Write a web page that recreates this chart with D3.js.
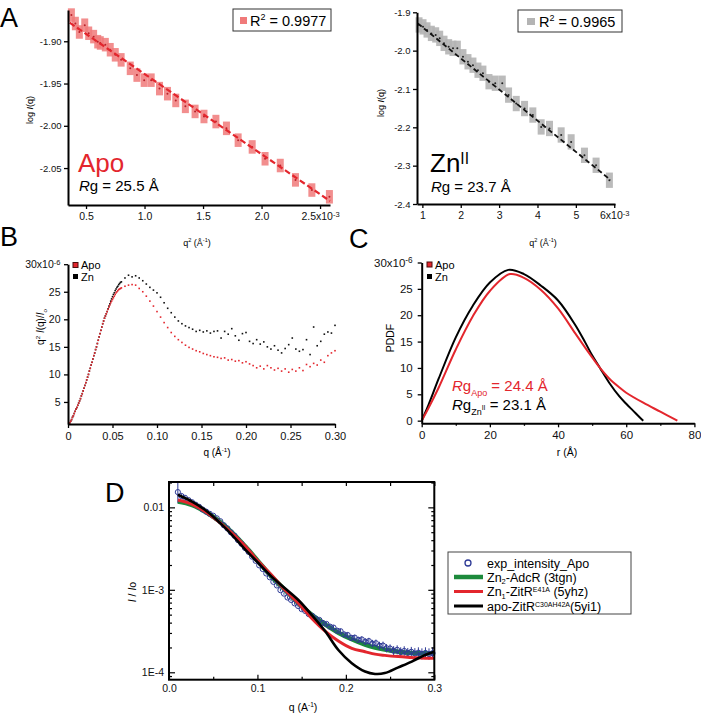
<!DOCTYPE html>
<html>
<head>
<meta charset="utf-8">
<script src="https://cdn.jsdelivr.net/npm/d3@7"></script>
<style>
  body { margin: 0; background: #fff; }
  svg { font-family: "Liberation Sans", Arial, Helvetica, sans-serif; }
</style>
</head>
<body>
<svg id="fig" width="701" height="715"></svg>
<script>
// ---------- panel A : Guinier plots ----------
const apoQ2 = [0.375,0.409,0.443,0.489,0.523,0.565,0.600,0.622,0.665,0.707,0.750,0.800,0.878,0.935,0.997,1.057,1.128,1.196,1.267,1.349,1.432,1.508,1.610,1.700,1.800,1.920,2.030,2.160,2.290,2.430,2.580];
const apoLogI = [-1.869,-1.879,-1.889,-1.881,-1.8905,-1.8945,-1.9005,-1.902,-1.904,-1.910,-1.916,-1.922,-1.932,-1.940,-1.946,-1.946,-1.956,-1.962,-1.970,-1.977,-1.983,-1.989,-1.995,-2.003,-2.017,-2.025,-2.039,-2.047,-2.064,-2.076,-2.084];
const apoErr = 0.008;
const apoFitQ2 = [0.36, 2.585];
const apoFitLogI = [-1.878, -2.089];
const apoXTicks = [0.5, 1.0, 1.5, 2.0, 2.5];
const apoYTicks = [-1.90, -1.95, -2.00, -2.05];

const znQ2 = [0.913,1.017,1.121,1.234,1.347,1.451,1.564,1.685,1.798,1.911,2.058,2.188,2.318,2.448,2.578,2.735,2.899,3.082,3.246,3.446,3.663,3.879,4.096,4.313,4.617,4.877,5.224,5.527,5.874];
const znLogI = [-1.933,-1.938,-1.946,-1.955,-1.959,-1.968,-1.981,-1.990,-1.994,-1.994,-2.016,-2.029,-2.038,-2.051,-2.059,-2.081,-2.085,-2.085,-2.116,-2.138,-2.151,-2.168,-2.199,-2.203,-2.220,-2.238,-2.273,-2.299,-2.338];
const znErr = 0.02;
const znFitQ2 = [0.88, 5.9];
const znFitLogI = [-1.929, -2.337];
const znXTicks = [1, 2, 3, 4, 5, 6];
const znYTicks = [-1.9, -2.0, -2.1, -2.2, -2.3, -2.4];

// ---------- panel B : Kratky ----------
const qB = [0.002,0.003,0.004,0.005,0.006,0.007,0.008,0.009,0.010,0.011,0.012,0.013,0.014,0.015,0.016,0.017,0.018,0.019,0.020,0.021,0.022,0.023,0.024,0.025,0.026,0.027,0.028,0.029,0.030,0.031,0.032,0.033,0.034,0.035,0.036,0.037,0.038,0.039,0.040,0.041,0.042,0.043,0.044,0.045,0.046,0.047,0.048,0.049,0.050,0.051,0.052,0.053,0.054,0.055,0.056,0.057,0.058,0.059,0.060,
  0.064,0.068,0.072,0.076,0.080,0.084,0.088,0.092,0.096,0.100,0.104,0.108,0.112,0.116,0.120,0.124,0.128,0.132,0.136,0.140,0.144,0.148,0.152,0.156,0.160,0.164,0.168,0.172,0.176,0.180,0.184,0.188,0.192,0.196,0.200,0.204,0.208,0.212,0.216,0.220,0.224,0.228,0.232,0.236,0.240,0.244,0.248,0.252,0.256,0.260,0.264,0.268,0.272,0.276,0.280,0.284,0.288,0.292,0.296,0.300];
const apoKratky = [1.2,1.5,1.8,2.2,2.5,2.9,3.3,3.7,4.0,4.4,4.8,5.2,5.6,6.1,6.5,7.0,7.5,8.0,8.5,9.0,9.5,10.0,10.6,11.1,11.7,12.2,12.8,13.4,13.9,14.5,15.0,15.6,16.2,16.8,17.4,18.0,18.6,19.2,19.7,20.2,20.6,21.0,21.4,21.8,22.2,22.6,23.0,23.3,23.6,23.9,24.2,24.5,24.8,25.0,25.2,25.4,25.5,25.6,25.7,
  26.0,26.2,26.3,26.2,25.6,25.0,24.2,23.3,22.4,21.4,20.4,19.4,18.5,17.6,16.9,16.3,15.8,15.3,14.9,14.6,14.3,14.1,13.8,13.6,13.4,13.2,13.1,12.9,13.0,12.6,12.7,12.4,12.5,12.1,12.3,11.9,11.6,11.2,11.5,11.0,11.6,11.2,10.8,11.1,10.6,11.0,10.4,10.9,10.6,11.2,10.7,11.8,11.4,12.0,11.7,12.6,12.2,13.4,13.9,14.3];
const znKratky = [1.2,1.5,1.8,2.2,2.5,2.9,3.3,3.7,4.0,4.4,4.8,5.2,5.6,6.1,6.5,7.0,7.5,8.0,8.5,9.0,9.5,10.0,10.6,11.1,11.7,12.2,12.8,13.4,13.9,14.5,15.0,15.6,16.2,16.8,17.4,18.0,18.6,19.2,19.7,20.2,20.6,21.0,21.4,21.9,22.4,22.8,23.3,23.7,24.1,24.5,24.8,25.2,25.5,25.8,26.0,26.3,26.5,26.7,26.8,
  27.5,28.0,27.7,27.9,27.5,27.0,26.4,25.8,25.3,24.8,24.0,23.0,22.0,21.2,20.4,19.7,19.2,18.8,18.5,18.2,17.8,18.0,17.7,17.9,17.5,17.8,17.9,16.6,17.8,17.3,18.3,17.0,16.2,17.4,17.6,16.0,15.6,16.3,15.5,15.9,15.0,14.6,15.2,14.4,13.9,14.7,15.4,16.6,14.6,14.2,14.5,16.3,13.6,18.6,15.2,16.0,17.3,17.7,17.5,18.9];
const kratkyXTicks = [0, 0.05, 0.10, 0.15, 0.20, 0.25, 0.30];
const kratkyYTicks = [5, 10, 15, 20, 25, 30];

// ---------- panel C : P(r) ----------
const znR = [0,2,5,10,15,20,25.4,30,35,40,45,48,50,52.3,55,58,60,62,64,65];
const znPr = [0,3.0,8.0,15.8,21.8,26.2,28.6,27.8,25.6,22.8,18.2,14.8,12.4,10.0,7.2,4.6,3.2,1.9,0.6,0];
const apoR = [0,2,5,10,15,20,25.9,30,35,40,45,48,50,52.3,55,58,60,65,70,75];
const apoPr = [0,2.4,6.3,13.5,19.8,24.6,27.8,27.1,24.8,21.3,16.6,13.8,12.0,10.0,8.0,6.3,5.3,3.4,1.7,0];
const prXTicks = [0, 20, 40, 60, 80];
const prXMinor = [10, 30, 50, 70];
const prYTicks = [0, 5, 10, 15, 20, 25, 30];

// ---------- panel D : scattering curves ----------
const qD = [0.010,0.014,0.018,0.022,0.026,0.030,0.034,0.038,0.042,0.046,0.050,0.054,0.058,0.062,0.066,0.070,0.074,0.078,0.082,0.086,0.090,0.094,0.098,0.102,0.106,0.110,0.114,0.118,0.122,0.126,0.130,0.134,0.138,0.142,0.146,0.150,0.154,0.158,0.162,0.166,0.170,0.174,0.178,0.182,0.186,0.190,0.194,0.198,0.202,0.206,0.210,0.214,0.218,0.222,0.226,0.230,0.234,0.238,0.242,0.246,0.250,0.254,0.258,0.262,0.266,0.270,0.274,0.278,0.282,0.286,0.290,0.294,0.298];
const expLogI = [-1.815,-1.862,-1.884,-1.912,-1.938,-1.967,-1.993,-2.026,-2.052,-2.078,-2.102,-2.133,-2.168,-2.217,-2.255,-2.303,-2.344,-2.397,-2.441,-2.493,-2.540,-2.598,-2.648,-2.703,-2.748,-2.802,-2.848,-2.903,-2.947,-3.004,-3.046,-3.093,-3.122,-3.164,-3.196,-3.234,-3.256,-3.294,-3.316,-3.349,-3.365,-3.401,-3.414,-3.446,-3.458,-3.495,-3.502,-3.541,-3.548,-3.582,-3.580,-3.607,-3.602,-3.628,-3.622,-3.652,-3.648,-3.678,-3.676,-3.708,-3.712,-3.738,-3.728,-3.755,-3.742,-3.765,-3.752,-3.772,-3.762,-3.778,-3.765,-3.780,-3.768];
const expErr = [0.13,0.03,0.02,0.015,0.012,0.012,0.012,0.012,0.012,0.012,0.01,0.01,0.01,0.01,0.01,0.01,0.01,0.01,0.01,0.01,0.01,0.01,0.01,0.01,0.012,0.012,0.012,0.012,0.014,0.014,0.014,0.015,0.015,0.016,0.016,0.018,0.018,0.02,0.02,0.022,0.022,0.025,0.025,0.028,0.028,0.03,0.03,0.033,0.033,0.035,0.035,0.038,0.038,0.04,0.04,0.045,0.045,0.048,0.048,0.05,0.05,0.055,0.055,0.058,0.058,0.06,0.06,0.065,0.065,0.068,0.068,0.07,0.07];
const fitQ = [0.010,0.0256,0.0407,0.0558,0.0709,0.086,0.101,0.116,0.131,0.146,0.161,0.1765,0.1915,0.2067,0.2217,0.233,0.244,0.2594,0.2745,0.2896,0.300];
const adcrLogI = [-1.93,-1.97,-2.05,-2.16,-2.30,-2.47,-2.655,-2.84,-3.0,-3.16,-3.30,-3.42,-3.52,-3.60,-3.665,-3.70,-3.725,-3.75,-3.765,-3.77,-3.77];
const zitrLogI = [-1.91,-1.96,-2.05,-2.17,-2.31,-2.47,-2.655,-2.82,-3.0,-3.16,-3.34,-3.50,-3.62,-3.71,-3.75,-3.78,-3.795,-3.81,-3.82,-3.83,-3.83];
const apoZitrLogI = [-1.847,-1.927,-2.03,-2.17,-2.33,-2.51,-2.675,-2.84,-2.98,-3.12,-3.30,-3.50,-3.73,-3.89,-3.99,-4.02,-4.01,-3.94,-3.87,-3.79,-3.75];
const dXTicks = [0, 0.1, 0.2, 0.3];
const dXMinor = [0.05, 0.15, 0.25];
const dYTicks = [1e-4, 1e-3, 1e-2];

const RED = "#e3262d", APO_MARK = "#f07a7a", ZN_MARK = "#b4b4b4";
const GREEN = "#1d8a3c", BLUE = "#2e3a96";

const svg = d3.select("#fig");

// text with italic / super / subscript runs
function rich(sel, fs, parts) {
  let cur = 0;
  parts.forEach(p => {
    if (typeof p === "string") p = {t: p};
    let off = 0, size = fs;
    if (p.sup) { off = -fs * 0.4; size = fs * 0.62; }
    if (p.sub) { off = fs * 0.28; size = fs * 0.62; }
    if (p.dy !== undefined) { off = fs * p.dy; size = fs * p.sz; }
    const t = sel.append("tspan").attr("dy", off - cur).attr("font-size", size).text(p.t);
    if (p.it) t.attr("font-style", "italic");
    cur = off;
  });
  return sel;
}

function styleAxis(g, fs) {
  g.attr("font-family", null).attr("font-size", fs);
  g.select(".domain").attr("stroke-width", 2);
  g.selectAll(".tick line").attr("stroke-width", 1.3);
  g.selectAll(".tick text").attr("fill", "#111");
}

function lastTickSup(g, sup) {
  const t = g.selectAll(".tick text").filter((d, i, n) => i === n.length - 1);
  t.append("tspan").attr("dy", "-0.45em").attr("font-size", "0.72em").text(sup);
}

function yLabel(x, y, fs, parts) {
  const t = svg.append("text").attr("transform", `translate(${x},${y}) rotate(-90)`)
    .attr("text-anchor", "middle").attr("font-size", fs);
  rich(t, fs, parts);
}

function xLabel(x, y, fs, parts) {
  const t = svg.append("text").attr("x", x).attr("y", y).attr("text-anchor", "middle").attr("font-size", fs);
  rich(t, fs, parts);
}

function panelLetter(x, y, s) {
  svg.append("text").attr("x", x).attr("y", y).attr("font-size", 27).text(s);
}

// ===== Panel A, left (Apo) =====
{
  const x = d3.scaleLinear().domain([0.346, 2.585]).range([68, 330]);
  const y = d3.scaleLinear().domain([-2.0937, -1.863]).range([205, 10]);
  const g = svg.append("g");

  g.selectAll("rect.err").data(apoQ2).join("rect")
    .attr("x", d => x(d) - 3.5).attr("width", 7)
    .attr("y", (d, i) => y(apoLogI[i] + apoErr))
    .attr("height", (d, i) => y(apoLogI[i] - apoErr) - y(apoLogI[i] + apoErr))
    .attr("fill", APO_MARK).attr("opacity", 0.85);
  g.selectAll("circle").data(apoQ2).join("circle")
    .attr("cx", d => x(d)).attr("cy", (d, i) => y(apoLogI[i])).attr("r", 1)
    .attr("fill", "#b8222a");
  g.append("line")
    .attr("x1", x(apoFitQ2[0])).attr("y1", y(apoFitLogI[0]))
    .attr("x2", x(apoFitQ2[1])).attr("y2", y(apoFitLogI[1]))
    .attr("stroke", RED).attr("stroke-width", 2.2).attr("stroke-dasharray", "6,3");

  const ax = g.append("g").attr("transform", "translate(0,205)")
    .call(d3.axisBottom(x).tickValues(apoXTicks).tickSize(4).tickSizeOuter(0).tickPadding(4)
      .tickFormat(d => d === 2.5 ? "2.5x10" : d.toFixed(1)));
  styleAxis(ax, 10.5);
  lastTickSup(ax, "-3");
  const ay = g.append("g").attr("transform", "translate(68,0)")
    .call(d3.axisLeft(y).tickValues(apoYTicks).tickSize(4).tickSizeOuter(0).tickPadding(2.5)
      .tickFormat(d => d.toFixed(2)));
  styleAxis(ay, 9.5);

  // legend
  g.append("rect").attr("x", 233).attr("y", 9).attr("width", 98).attr("height", 22)
    .attr("fill", "#fff").attr("stroke", "#333").attr("stroke-width", 1);
  g.append("rect").attr("x", 240).attr("y", 17).attr("width", 7).attr("height", 7).attr("fill", APO_MARK);
  rich(g.append("text").attr("x", 250).attr("y", 26).attr("font-size", 14.5), 14.5,
    ["R", {t: "2", sup: true}, " = 0.9977"]);

  g.append("text").attr("x", 78).attr("y", 172).attr("font-size", 26).attr("fill", RED).text("Apo");
  rich(g.append("text").attr("x", 79).attr("y", 191).attr("font-size", 15), 15,
    [{t: "R", it: true}, "g = 25.5 Å"]);

  xLabel(197, 246, 9, ["q", {t: "2", sup: true}, " (Å", {t: "-1", sup: true}, ")"]);
  yLabel(33, 110, 9, ["log ", {t: "I", it: true}, "(q)"]);
}

// ===== Panel A, right (Zn) =====
{
  const x = d3.scaleLinear().domain([0.86, 6.02]).range([417, 615]);
  const y = d3.scaleLinear().domain([-2.4, -1.9]).range([204, 12.3]);
  const g = svg.append("g");

  g.selectAll("rect.err").data(znQ2).join("rect")
    .attr("x", d => x(d) - 3.5).attr("width", 7)
    .attr("y", (d, i) => y(znLogI[i] + znErr))
    .attr("height", (d, i) => y(znLogI[i] - znErr) - y(znLogI[i] + znErr))
    .attr("fill", ZN_MARK).attr("opacity", 0.9);
  g.selectAll("circle").data(znQ2).join("circle")
    .attr("cx", d => x(d)).attr("cy", (d, i) => y(znLogI[i])).attr("r", 1)
    .attr("fill", "#222");
  g.append("line")
    .attr("x1", x(znFitQ2[0])).attr("y1", y(znFitLogI[0]))
    .attr("x2", x(znFitQ2[1])).attr("y2", y(znFitLogI[1]))
    .attr("stroke", "#111").attr("stroke-width", 1.8).attr("stroke-dasharray", "5,3");

  const ax = g.append("g").attr("transform", "translate(0,204)")
    .call(d3.axisBottom(x).tickValues(znXTicks).tickSize(4).tickSizeOuter(0).tickPadding(4)
      .tickFormat(d => d === 6 ? "6x10" : String(d)));
  styleAxis(ax, 10.5);
  lastTickSup(ax, "-3");
  const ay = g.append("g").attr("transform", "translate(417,0)")
    .call(d3.axisLeft(y).tickValues(znYTicks).tickSize(4).tickSizeOuter(0).tickPadding(2.5)
      .tickFormat(d => d.toFixed(1)));
  styleAxis(ay, 9.5);

  g.append("rect").attr("x", 518).attr("y", 10).attr("width", 104).attr("height", 22)
    .attr("fill", "#fff").attr("stroke", "#333").attr("stroke-width", 1);
  g.append("rect").attr("x", 527).attr("y", 18).attr("width", 8).attr("height", 7).attr("fill", ZN_MARK);
  rich(g.append("text").attr("x", 539).attr("y", 27).attr("font-size", 14.5), 14.5,
    ["R", {t: "2", sup: true}, " = 0.9965"]);

  rich(g.append("text").attr("x", 430).attr("y", 172).attr("font-size", 26), 26,
    ["Zn", {t: "II", dy: -0.3, sz: 0.6}]);
  rich(g.append("text").attr("x", 431).attr("y", 192).attr("font-size", 15), 15,
    [{t: "R", it: true}, "g = 23.7 Å"]);

  xLabel(543, 246, 9, ["q", {t: "2", sup: true}, " (Å", {t: "-1", sup: true}, ")"]);
  yLabel(384, 103, 9, ["log ", {t: "I", it: true}, "(q)"]);
}

// ===== Panel B =====
{
  const x = d3.scaleLinear().domain([0, 0.30]).range([68, 335]);
  const y = d3.scaleLinear().domain([1, 30]).range([424, 264.2]);
  const g = svg.append("g");

  g.selectAll("rect.zn").data(qB).join("rect")
    .attr("x", d => x(d) - 0.8).attr("y", (d, i) => y(znKratky[i]) - 0.8)
    .attr("width", 1.6).attr("height", 1.6).attr("fill", "#111");
  g.append("g").selectAll("rect").data(qB).join("rect")
    .attr("x", d => x(d) - 0.8).attr("y", (d, i) => y(apoKratky[i]) - 0.8)
    .attr("width", 1.6).attr("height", 1.6).attr("fill", RED);

  const ax = g.append("g").attr("transform", "translate(0,424)")
    .call(d3.axisBottom(x).tickValues(kratkyXTicks).tickSize(4).tickSizeOuter(0).tickPadding(4)
      .tickFormat(d => d === 0 ? "0" : d.toFixed(2)));
  styleAxis(ax, 11);
  const ay = g.append("g").attr("transform", "translate(68,0)")
    .call(d3.axisLeft(y).tickValues(kratkyYTicks).tickSize(4).tickSizeOuter(0).tickPadding(3.5)
      .tickFormat(d => d === 30 ? "30x10" : String(d)));
  styleAxis(ay, 10.5);
  lastTickSup(ay, "-6");

  g.append("rect").attr("x", 73).attr("y", 262.5).attr("width", 5).attr("height", 5)
    .attr("fill", RED).attr("stroke", "#4a0c0c").attr("stroke-width", 1);
  g.append("text").attr("x", 81).attr("y", 269).attr("font-size", 11).text("Apo");
  g.append("rect").attr("x", 73).attr("y", 274).attr("width", 5).attr("height", 5).attr("fill", "#000");
  g.append("text").attr("x", 81).attr("y", 280.5).attr("font-size", 11).text("Zn");

  xLabel(217, 456, 10, ["q (Å", {t: "-1", sup: true}, ")"]);
  yLabel(44, 327, 10, ["q", {t: "2", sup: true}, " ", {t: "I", it: true}, "(q)/", {t: "I", it: true}, {t: "o", sub: true}]);
}

// ===== Panel C =====
{
  const x = d3.scaleLinear().domain([0, 80]).range([421.7, 694.4]);
  const y = d3.scaleLinear().domain([-0.5, 30]).range([423.3, 262.5]);
  const g = svg.append("g");
  const line = d3.line().x(d => x(d[0])).y(d => y(d[1])).curve(d3.curveCatmullRom.alpha(0.5));

  g.append("path").attr("d", line(znR.map((r, i) => [r, znPr[i]])))
    .attr("fill", "none").attr("stroke", "#000").attr("stroke-width", 2);
  g.append("path").attr("d", line(apoR.map((r, i) => [r, apoPr[i]])))
    .attr("fill", "none").attr("stroke", RED).attr("stroke-width", 2);

  const ax = g.append("g").attr("transform", "translate(0,423.3)")
    .call(d3.axisBottom(x).tickValues(prXTicks).tickSize(4).tickSizeOuter(0).tickPadding(4));
  styleAxis(ax, 11.5);
  g.append("g").attr("transform", "translate(0,423.3)")
    .call(d3.axisBottom(x).tickValues(prXMinor).tickSize(2.5).tickFormat(""))
    .call(s => { s.select(".domain").remove(); s.selectAll("line").attr("stroke-width", 1.3); });
  const ay = g.append("g").attr("transform", "translate(421.7,0)")
    .call(d3.axisLeft(y).tickValues(prYTicks).tickSize(4).tickSizeOuter(0).tickPadding(5)
      .tickFormat(d => d === 30 ? "30x10" : String(d)));
  styleAxis(ay, 11.5);
  lastTickSup(ay, "-6");

  g.append("rect").attr("x", 427).attr("y", 262).attr("width", 5).attr("height", 5)
    .attr("fill", RED).attr("stroke", "#4a0c0c").attr("stroke-width", 1);
  g.append("text").attr("x", 435).attr("y", 268.5).attr("font-size", 11).text("Apo");
  g.append("rect").attr("x", 427).attr("y", 274).attr("width", 5).attr("height", 5).attr("fill", "#000");
  g.append("text").attr("x", 435).attr("y", 280.5).attr("font-size", 11).text("Zn");

  rich(g.append("text").attr("x", 452).attr("y", 391).attr("font-size", 15).attr("fill", RED), 15,
    [{t: "R", it: true}, "g", {t: "Apo", dy: 0.3, sz: 0.6}, {t: " = 24.4 Å", dy: 0, sz: 1}]);
  rich(g.append("text").attr("x", 452).attr("y", 410).attr("font-size", 15), 15,
    [{t: "R", it: true}, "g", {t: "Zn", dy: 0.3, sz: 0.6}, {t: "II", dy: 0.02, sz: 0.45},
     {t: " = 23.1 Å", dy: 0, sz: 1}]);

  xLabel(567, 456, 10.5, ["r (Å)"]);
  yLabel(394, 338, 10.5, ["PDDF"]);
}

// ===== Panel D =====
{
  const x = d3.scaleLinear().domain([0, 0.3]).range([169, 434.3]);
  const y = d3.scaleLog().domain([8.13e-5, 0.0203]).range([679.7, 482]);
  const g = svg.append("g");
  const pt = (q, l) => [x(q), y(Math.pow(10, l))];
  const line = d3.line().curve(d3.curveCatmullRom.alpha(0.5));

  g.append("path").attr("d", line(fitQ.map((q, i) => pt(q, adcrLogI[i]))))
    .attr("fill", "none").attr("stroke", GREEN).attr("stroke-width", 4.5);

  g.selectAll("line.err").data(qD).join("line")
    .attr("x1", d => x(d)).attr("x2", d => x(d))
    .attr("y1", (d, i) => y(Math.pow(10, expLogI[i] + expErr[i])))
    .attr("y2", (d, i) => y(Math.pow(10, expLogI[i] - expErr[i])))
    .attr("stroke", BLUE).attr("stroke-width", 1);
  g.selectAll("circle").data(qD).join("circle")
    .attr("cx", d => x(d)).attr("cy", (d, i) => y(Math.pow(10, expLogI[i])))
    .attr("r", 2.6).attr("fill", "none").attr("stroke", BLUE).attr("stroke-width", 1);

  g.append("path").attr("d", line(fitQ.map((q, i) => pt(q, zitrLogI[i]))))
    .attr("fill", "none").attr("stroke", RED).attr("stroke-width", 3);
  g.append("path").attr("d", line(fitQ.map((q, i) => pt(q, apoZitrLogI[i]))))
    .attr("fill", "none").attr("stroke", "#000").attr("stroke-width", 2.6);

  // frame
  g.append("rect").attr("x", 169).attr("y", 482).attr("width", 434.3 - 169).attr("height", 679.7 - 482)
    .attr("fill", "none").attr("stroke", "#000").attr("stroke-width", 2);

  const minorY = [];
  [1e-5, 1e-4, 1e-3, 1e-2].forEach(dec => {
    for (let k = 2; k <= 9; k++) {
      const v = dec * k;
      if (v > 8.13e-5 && v < 0.0203) minorY.push(v);
    }
  });
  const ax = g.append("g").attr("transform", "translate(0,679.7)")
    .call(d3.axisBottom(x).tickValues(dXTicks).tickSize(-5).tickSizeOuter(0).tickPadding(5)
      .tickFormat(d => d.toFixed(1)));
  styleAxis(ax, 10.5);
  ax.select(".domain").remove();
  g.append("g").attr("transform", "translate(0,679.7)")
    .call(d3.axisBottom(x).tickValues(dXMinor).tickSize(-3).tickFormat(""))
    .call(s => s.select(".domain").remove());
  g.append("g").attr("transform", "translate(0,482)")
    .call(d3.axisTop(x).tickValues(dXTicks.concat(dXMinor)).tickSize(-4).tickFormat(""))
    .call(s => s.select(".domain").remove());

  const ay = g.append("g").attr("transform", "translate(169,0)")
    .call(d3.axisLeft(y).tickValues(dYTicks).tickSize(-6).tickPadding(5)
      .tickFormat(d => d === 1e-2 ? "0.01" : d === 1e-3 ? "1E-3" : "1E-4"));
  styleAxis(ay, 10.5);
  ay.select(".domain").remove();
  g.append("g").attr("transform", "translate(169,0)")
    .call(d3.axisLeft(y).tickValues(minorY).tickSize(-3).tickFormat(""))
    .call(s => s.select(".domain").remove());
  g.append("g").attr("transform", "translate(434.3,0)")
    .call(d3.axisRight(y).tickValues(dYTicks).tickSize(-6).tickFormat(""))
    .call(s => s.select(".domain").remove());
  g.append("g").attr("transform", "translate(434.3,0)")
    .call(d3.axisRight(y).tickValues(minorY).tickSize(-3).tickFormat(""))
    .call(s => s.select(".domain").remove());
  g.selectAll(".tick line").attr("stroke-width", 1.2);

  xLabel(303, 711, 10.5, ["q (A", {t: "-1", sup: true}, ")"]);
  yLabel(136, 592, 10.5, [{t: "I", it: true}, " / ", {t: "I", it: true}, "o"]);

  // legend
  const lg = g.append("g");
  lg.append("rect").attr("x", 448).attr("y", 552).attr("width", 183).attr("height", 62)
    .attr("fill", "#fff").attr("stroke", "#444").attr("stroke-width", 1);
  const rows = [563, 577, 591.5, 606];
  lg.append("circle").attr("cx", 468).attr("cy", rows[0]).attr("r", 3)
    .attr("fill", "none").attr("stroke", BLUE).attr("stroke-width", 1.3);
  [[GREEN, 4.5], [RED, 3], ["#000", 3]].forEach(([c, w], i) => {
    lg.append("line").attr("x1", 454).attr("x2", 483).attr("y1", rows[i + 1]).attr("y2", rows[i + 1])
      .attr("stroke", c).attr("stroke-width", w);
  });
  const fs = 12.5;
  const lt = (i) => lg.append("text").attr("x", 487).attr("y", rows[i] + 4.5).attr("font-size", fs);
  rich(lt(0), fs, ["exp_intensity_Apo"]);
  rich(lt(1), fs, ["Zn", {t: "2", dy: 0.22, sz: 0.6}, "-AdcR (3tgn)"]);
  rich(lt(2), fs, ["Zn", {t: "1", dy: 0.22, sz: 0.6}, "-ZitR", {t: "E41A", dy: -0.32, sz: 0.56}, " (5yhz)"]);
  rich(lt(3), fs, ["apo-ZitR", {t: "C30AH42A", dy: -0.32, sz: 0.56}, "(5yi1)"]);
}

panelLetter(0, 27, "A");
panelLetter(0, 246, "B");
panelLetter(349, 248, "C");
panelLetter(105, 502, "D");
</script>
</body>
</html>
